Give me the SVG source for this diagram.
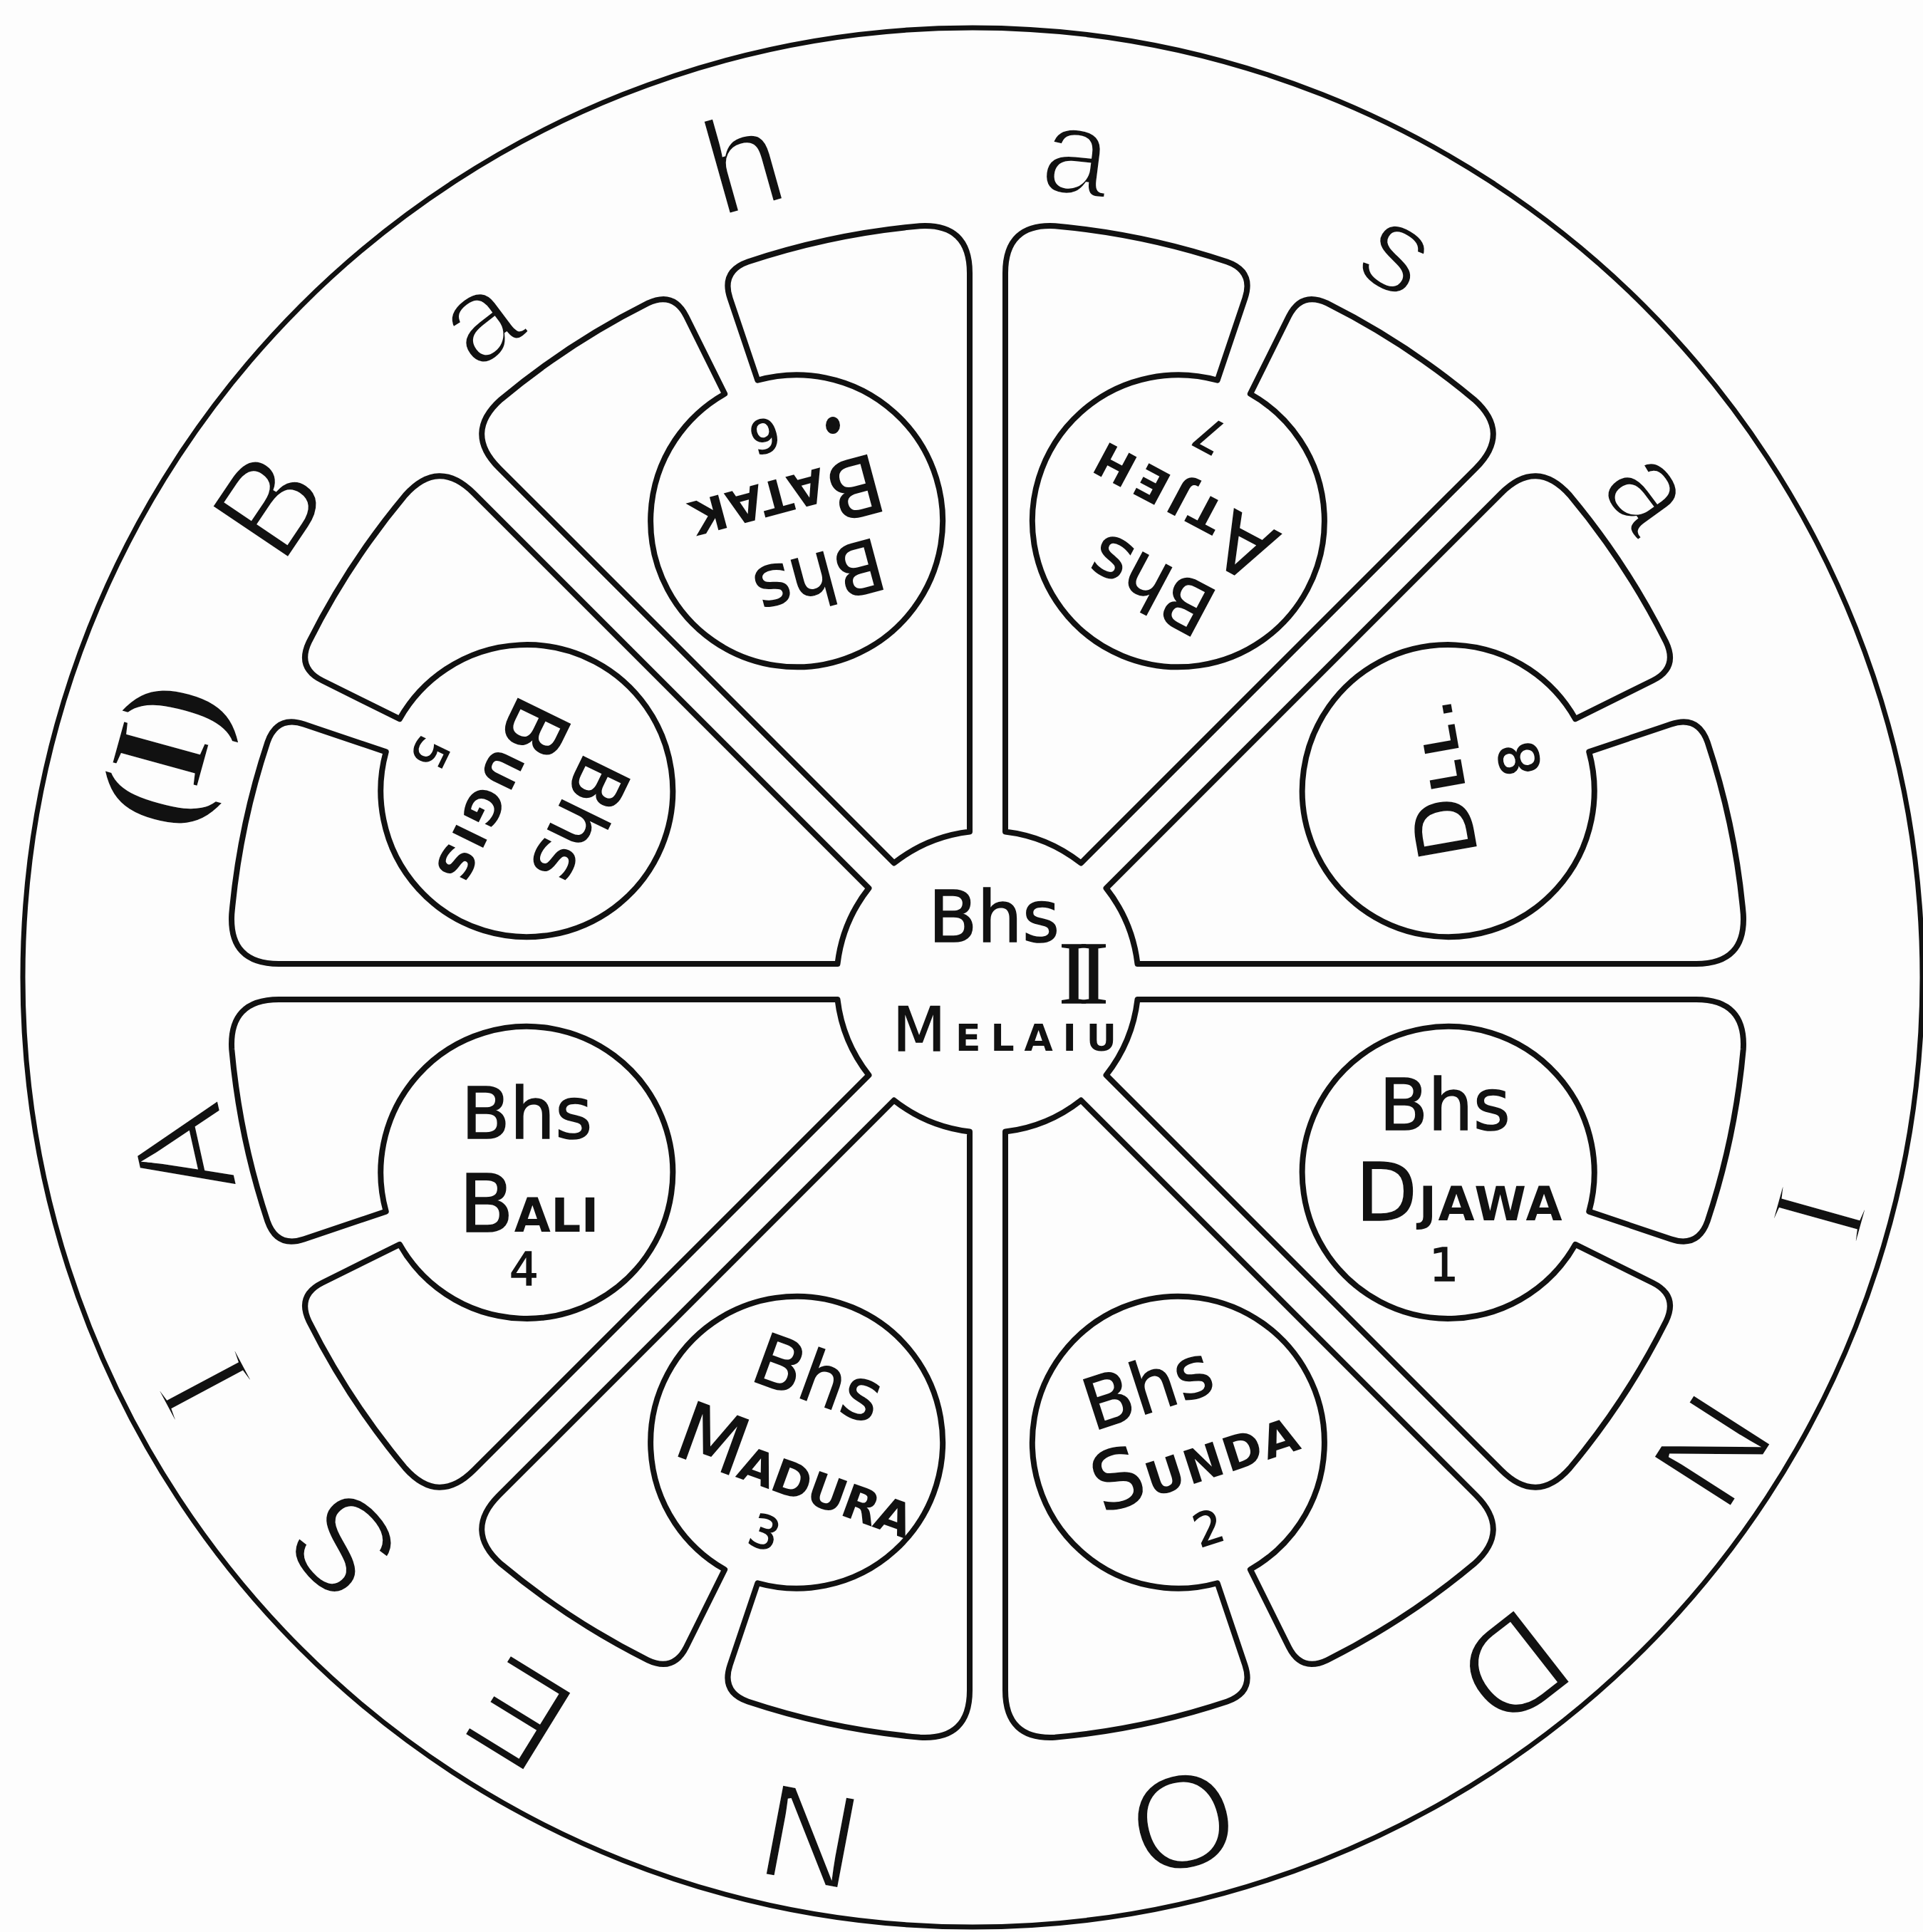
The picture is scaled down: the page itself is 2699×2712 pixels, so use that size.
<svg xmlns="http://www.w3.org/2000/svg" xmlns:xlink="http://www.w3.org/1999/xlink" width="2699" height="2712" viewBox="0 0 2699 2712">
<style>
.ln{fill:#fdfdfd;stroke:#111;stroke-width:8;stroke-linejoin:round;stroke-linecap:round}
.oc{fill:none;stroke:#111;stroke-width:7}
.t{font-family:'DejaVu Sans','Liberation Sans',Arial,sans-serif;fill:#111;stroke:#111;stroke-width:1.5;text-anchor:middle}
.bhs{font-size:100px}
.cap{font-size:112px}
.sc{font-size:66px;font-weight:bold;stroke-width:0}
.num{font-size:64px}
.ring{font-family:'Liberation Sans',Arial,sans-serif;font-size:190px;fill:#111;stroke:#fdfdfd;stroke-width:5;text-anchor:middle}
.lc{font-size:172px}
.sf{font-family:'Liberation Serif','Times New Roman',serif}
</style>
<defs>
<path id="sector" class="ln" d="M -57.46 -204.06 L -357.56 -928.56 Q -384.35 -993.23 -318.31 -1016.32 A 1065 1065 0 0 1 -76 -1062.29 Q -36 -1064.39 -33.22 -1024.49 L -25 -903.47 A 205 205 0 1 0 25 -903.47 L 33.22 -1024.49 Q 36 -1064.39 76 -1062.29 A 1065 1065 0 0 1 318.31 -1016.32 Q 384.35 -993.23 357.56 -928.56 L 57.46 -204.06 A 212 212 0 0 0 -57.46 -204.06 Z"/>
</defs>
<rect width="2699" height="2712" fill="#fdfdfd"/>

<g id="connectors">
<circle class="oc" cx="1365" cy="1372" r="1333"/>
</g>

<g id="ring-text">
<text class="ring sf" transform="translate(1365 1372) rotate(-74.6)" x="0" y="-1120" style="font-weight:bold;stroke-width:2">(I)</text>
<text class="ring" transform="translate(1365 1372) rotate(-56.1)" x="0" y="-1125">B</text>
<text class="ring lc" transform="translate(1365 1372) rotate(-36.9)" x="0" y="-1098">a</text>
<text class="ring" transform="translate(1365 1372) rotate(-15.7)" x="0" y="-1123">h</text>
<text class="ring lc" transform="translate(1365 1372) rotate(7.2)" x="0" y="-1108">a</text>
<text class="ring lc" transform="translate(1365 1372) rotate(30.4)" x="0" y="-1124">s</text>
<text class="ring lc" transform="translate(1365 1372) rotate(54.3)" x="0" y="-1115">a</text>
<text class="ring sf" transform="translate(1365 1372) rotate(105.6)" x="0" y="-1172">I</text>
<text class="ring" transform="translate(1365 1372) rotate(122.6)" x="0" y="-1167">N</text>
<text class="ring" transform="translate(1365 1372) rotate(142)" x="0" y="-1166">D</text>
<text class="ring" transform="translate(1365 1372) rotate(166)" x="0" y="-1156">O</text>
<text class="ring" transform="translate(1365 1372) rotate(190.7)" x="0" y="-1162">N</text>
<text class="ring" transform="translate(1365 1372) rotate(211.6)" x="0" y="-1149">E</text>
<text class="ring" transform="translate(1365 1372) rotate(227.9)" x="0" y="-1125">S</text>
<text class="ring sf" transform="translate(1365 1372) rotate(242)" x="0" y="-1158">I</text>
<text class="ring" transform="translate(1365 1372) rotate(257.5)" x="0" y="-1070">A</text>
</g>

<g id="node-djawa">
<use xlink:href="#sector" href="#sector" transform="translate(1386 1378) rotate(112.5)"/>
<g transform="translate(2032.7 1645.9)">
<text class="t bhs" x="-5" y="-60">Bhs</text>
<text class="t" x="15" y="67" textLength="290" lengthAdjust="spacing"><tspan class="cap">D</tspan><tspan class="sc">JAWA</tspan></text>
<text class="t num" x="-6" y="152">1</text>
</g>
</g>

<g id="node-sunda">
<use xlink:href="#sector" href="#sector" transform="translate(1386 1378) rotate(157.5)"/>
<g transform="translate(1653.9 2024.7) rotate(-18)">
<text class="t bhs" x="-17" y="-52">Bhs</text>
<text class="t" x="15" y="62" textLength="295" lengthAdjust="spacing"><tspan class="cap">S</tspan><tspan class="sc">UNDA</tspan></text>
<text class="t num" x="3" y="150">2</text>
</g>
</g>

<g id="node-madura">
<use xlink:href="#sector" href="#sector" transform="translate(1386 1378) rotate(202.5)"/>
<g transform="translate(1118.1 2024.7) rotate(20)">
<text class="t bhs" x="-2" y="-60">Bhs</text>
<text class="t" x="15" y="75" textLength="350" lengthAdjust="spacing"><tspan class="cap">M</tspan><tspan class="sc">ADURA</tspan></text>
<text class="t num" x="1" y="157">3</text>
</g>
</g>

<g id="node-bali">
<use xlink:href="#sector" href="#sector" transform="translate(1386 1378) rotate(247.5)"/>
<g transform="translate(739.3 1645.9)">
<text class="t bhs" x="0" y="-48">Bhs</text>
<text class="t" x="3" y="83" textLength="196" lengthAdjust="spacing"><tspan class="cap">B</tspan><tspan class="sc">ALI</tspan></text>
<text class="t num" x="-4" y="158">4</text>
</g>
</g>

<g id="node-bugis">
<use xlink:href="#sector" href="#sector" transform="translate(1386 1378) rotate(-67.5)"/>
<g transform="translate(739.3 1110.1) rotate(116)">
<text class="t bhs" x="4" y="-50">Bhs</text>
<text class="t" x="18" y="68" textLength="280" lengthAdjust="spacing"><tspan class="cap">B</tspan><tspan class="sc">UGIS</tspan></text>
<text class="t num" x="12" y="168">5</text>
</g>
</g>

<g id="node-batak">
<use xlink:href="#sector" href="#sector" transform="translate(1386 1378) rotate(-22.5)"/>
<g transform="translate(1118.1 731.3) rotate(165)">
<text class="t bhs" x="-10" y="-51">Bhs</text>
<text class="t" x="6" y="64" textLength="272" lengthAdjust="spacing"><tspan class="cap">B</tspan><tspan class="sc">ATAK</tspan></text>
<text class="t num" x="12" y="150">6</text>
</g>
<ellipse cx="1169" cy="597" rx="10" ry="12" fill="#111"/>
</g>

<g id="node-atjeh">
<use xlink:href="#sector" href="#sector" transform="translate(1386 1378) rotate(22.5)"/>
<g transform="translate(1653.9 731.3) rotate(208)">
<text class="t bhs" x="-8" y="-62">Bhs</text>
<text class="t" x="3" y="52" textLength="280" lengthAdjust="spacing"><tspan class="cap">A</tspan><tspan class="sc">TJEH</tspan></text>
<text class="t num" x="18" y="150">7</text>
</g>
</g>

<g id="node-dll">
<use xlink:href="#sector" href="#sector" transform="translate(1386 1378) rotate(67.5)"/>
<g transform="translate(2032.7 1110.1) rotate(-100)">
<text class="t" x="16" y="25" textLength="220" lengthAdjust="spacing"><tspan class="cap">D</tspan><tspan class="sc">LL.</tspan></text>
<text class="t num" x="27" y="133" style="font-size:76px">8</text>
</g>
</g>

<g id="node-melaju">
<text class="t" x="1395" y="1322" style="font-size:100px">Bhs</text>
<text class="t sf" x="1514" y="1408" style="font-size:125px;letter-spacing:-14px">II</text>
<text class="t" x="1410" y="1475" textLength="314" lengthAdjust="spacing"><tspan style="font-size:86px">M</tspan><tspan style="font-size:52px;font-weight:bold;stroke-width:0">ELAIU</tspan></text>
</g>
</svg>
